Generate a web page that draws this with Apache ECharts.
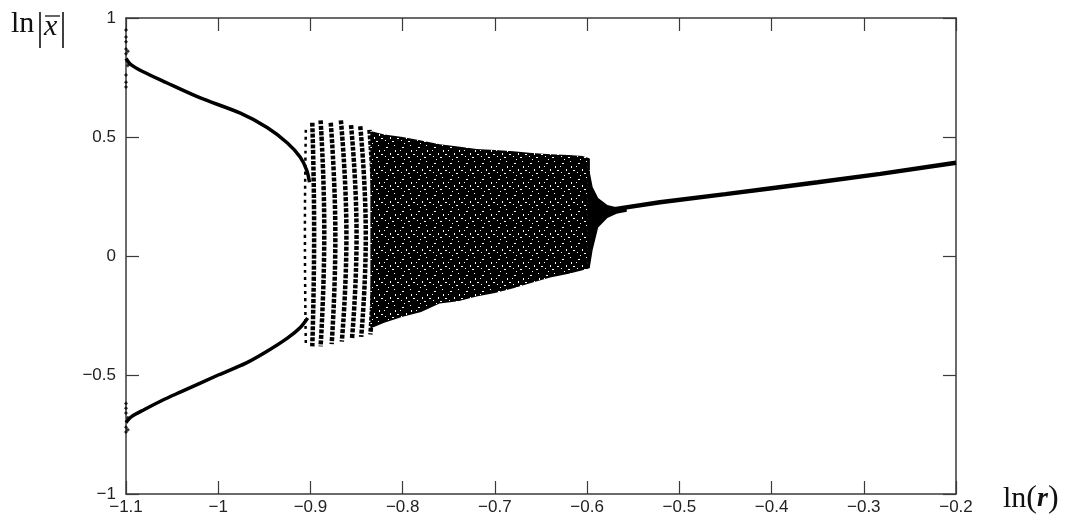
<!DOCTYPE html>
<html><head><meta charset="utf-8">
<script src="https://cdn.jsdelivr.net/npm/echarts@6/dist/echarts.min.js"></script>
<style>html,body{margin:0;padding:0;background:#fff}#c{width:1066px;height:520px}</style>
</head><body><div id="c"></div>
<script>
// ---- data ----
const xTicks = [-1.1, -1, -0.9, -0.8, -0.7, -0.6, -0.5, -0.4, -0.3, -0.2];
const yTicks = [-1, -0.5, 0, 0.5, 1];

const upperBranch = [[-1.1,0.83],[-1.095,0.805],[-1.082,0.775],[-1.056,0.728],[-1.02,0.665],[-0.976,0.60],[-0.947,0.54],[-0.925,0.475],[-0.911,0.415],[-0.904,0.36],[-0.901,0.31]];
const lowerBranch = [[-1.1,-0.70],[-1.094,-0.675],[-1.08,-0.645],[-1.06,-0.605],[-1.04,-0.57],[-1.0,-0.50],[-0.97,-0.45],[-0.947,-0.40],[-0.925,-0.345],[-0.911,-0.30],[-0.903,-0.26]];
const edgePoints = [[-1.1,0.95],[-1.1,0.92],[-1.1,0.90],[-1.1,0.87],[-1.1,0.85],[-1.098,0.86],[-1.098,0.80],[-1.1,0.76],[-1.1,0.73],[-1.1,0.71],
                    [-1.1,-0.62],[-1.1,-0.64],[-1.1,-0.66],[-1.098,-0.68],[-1.1,-0.72],[-1.1,-0.74],[-1.098,-0.73]];

const stripeTopX = [-0.905,-0.898,-0.889,-0.878,-0.867,-0.856,-0.846,-0.836];
const stripeTopY = [0.53,0.56,0.57,0.56,0.57,0.55,0.545,0.53];
const stripeMidX = [-0.906,-0.896,-0.885,-0.873,-0.861,-0.850,-0.840,-0.831];
const stripeMidY = [0.10,0.10,0.10,0.10,0.10,0.10,0.10,0.10];
const stripeBotX = [-0.905,-0.898,-0.889,-0.877,-0.866,-0.855,-0.845,-0.835];
const stripeBotY = [-0.37,-0.38,-0.38,-0.37,-0.36,-0.35,-0.34,-0.33];

const cloudX   = [-0.835,-0.82,-0.80,-0.78,-0.76,-0.74,-0.72,-0.70,-0.68,-0.66,-0.64,-0.62,-0.605,-0.597];
const cloudTop = [0.525,0.51,0.50,0.485,0.47,0.46,0.45,0.445,0.44,0.433,0.428,0.424,0.42,0.41];
const cloudBot = [-0.305,-0.28,-0.255,-0.235,-0.20,-0.19,-0.17,-0.155,-0.135,-0.112,-0.09,-0.075,-0.06,-0.05];

const funnelX   = [-0.600,-0.597,-0.594,-0.588,-0.578,-0.568,-0.557];
const funnelTop = [0.416,0.35,0.29,0.244,0.214,0.205,0.204];
const funnelBot = [-0.055,-0.046,0.025,0.12,0.16,0.178,0.186];

const rightX = [-0.572,-0.521,-0.45,-0.4,-0.35,-0.282,-0.2];
const rightY = [0.196,0.226,0.26,0.285,0.31,0.345,0.392];

// ---- stipple pattern (style only) ----
function makePattern(){
  const c = document.createElement('canvas'); c.width = 16; c.height = 16;
  const g = c.getContext('2d');
  g.fillStyle = '#000'; g.fillRect(0,0,16,16);
  g.fillStyle = '#fff';
  [[2,3,2,1],[10,1,1,1],[6,9,1,2],[13,10,2,1],[1,12,1,1],[11,6,1,2],[4,15,1,1],[8,13,2,1],[0,6,1,1]].forEach(r=>g.fillRect(r[0],r[1],r[2],r[3]));
  return c;
}
const pattern = makePattern();

const fmt = v => { const a = Math.abs(+v.toFixed(2)); return (v < -1e-9 ? '\u2212' : '') + a; };
const axisCol = '#3a3a3a';
const labelFont = {color:'#222', fontFamily:'Liberation Sans', fontSize:17};

const chart = echarts.init(document.getElementById('c'), null, {renderer:'canvas'});
const polyItem = (xs, tops, bots, fill) => function(params, api){
  if (params.dataIndex !== 0) return null;
  const pts = [];
  for (let i=0;i<xs.length;i++) pts.push(api.coord([xs[i], tops[i]]));
  for (let i=xs.length-1;i>=0;i--) pts.push(api.coord([xs[i], bots[i]]));
  return {type:'polygon', shape:{points:pts}, style:{fill:fill, stroke:null}};
};
const axLine = {onZero:false, lineStyle:{color:axisCol, width:1.5}};
const axTick = {inside:true, length:13, lineStyle:{color:axisCol, width:1.2}};

chart.setOption({
  animation:false,
  backgroundColor:'#fff',
  grid:{left:126, top:18, width:830, height:476},
  xAxis:[
    {type:'value', min:-1.1, max:-0.2, interval:0.1, position:'bottom',
     axisLine:axLine, axisTick:axTick,
     axisLabel:Object.assign({formatter:fmt, margin:5}, labelFont), splitLine:{show:false}},
    {type:'value', min:-1.1, max:-0.2, interval:0.1, position:'top',
     axisLine:axLine, axisTick:axTick,
     axisLabel:{show:false}, splitLine:{show:false}}
  ],
  yAxis:[
    {type:'value', min:-1, max:1, interval:0.5, position:'left',
     axisLine:axLine, axisTick:axTick,
     axisLabel:Object.assign({formatter:fmt, margin:10}, labelFont), splitLine:{show:false}},
    {type:'value', min:-1, max:1, interval:0.5, position:'right',
     axisLine:axLine, axisTick:axTick,
     axisLabel:{show:false}, splitLine:{show:false}}
  ],
  graphic:[
    {type:'text', left:11, top:9, style:{text:'ln', font:'30px "Liberation Serif"', fill:'#111'}},
    {type:'line', shape:{x1:40, y1:12, x2:40, y2:48}, style:{stroke:'#111', lineWidth:1.6}},
    {type:'line', shape:{x1:63, y1:12, x2:63, y2:48}, style:{stroke:'#111', lineWidth:1.6}},
    {type:'line', shape:{x1:45, y1:16, x2:60, y2:16}, style:{stroke:'#111', lineWidth:1.3}},
    {type:'text', left:44, top:12, style:{text:'x', font:'italic 30px "Liberation Serif"', fill:'#111'}},
    {type:'text', left:1003, top:483, style:{
      text:'{a|ln}{b|(}{c|r}{b|)}',
      rich:{a:{font:'30px "Liberation Serif"', fill:'#111'}, b:{font:'32px "Liberation Serif"', fill:'#111'}, c:{font:'italic bold 28px "Liberation Serif"', fill:'#111'}}
    }}
  ],
  series:[
    {type:'line', data:upperBranch, showSymbol:false, smooth:0.3, lineStyle:{color:'#000', width:3.5}, silent:true},
    {type:'line', data:lowerBranch, showSymbol:false, smooth:0.3, lineStyle:{color:'#000', width:3.5}, silent:true},
    {type:'scatter', data:edgePoints, symbol:'diamond', symbolSize:4, itemStyle:{color:'#000'}, silent:true},
    {type:'custom', silent:true, clip:true,
     data: stripeTopX.map((x,i)=>[x, stripeTopY[i], stripeMidX[i], stripeMidY[i], stripeBotX[i], stripeBotY[i]]),
     encode:{x:[0,2,4], y:[1,3,5]},
     renderItem:function(params, api){
       const i = params.dataIndex;
       const pts = [api.coord([api.value(0), api.value(1)]), api.coord([api.value(2), api.value(3)]), api.coord([api.value(4), api.value(5)])];
       return {type:'polyline', shape:{points:pts, smooth:0.5},
         style:{stroke:'#000', fill:null, lineWidth: i===0 ? 2.5 : 4.5, lineDash: i===0 ? [3,4] : [4,1.5]}};
     }},
    {type:'custom', silent:true, clip:true,
     data: cloudX.map((x,i)=>[x, cloudTop[i], cloudBot[i]]), encode:{x:0, y:[1,2]},
     renderItem: polyItem(cloudX, cloudTop, cloudBot, {image:pattern, repeat:'repeat'})},
    {type:'custom', silent:true, clip:true,
     data: funnelX.map((x,i)=>[x, funnelTop[i], funnelBot[i]]), encode:{x:0, y:[1,2]},
     renderItem: polyItem(funnelX, funnelTop, funnelBot, '#000')},
    {type:'line', data:rightX.map((x,i)=>[x, rightY[i]]), showSymbol:false, lineStyle:{color:'#000', width:4.5}, silent:true}
  ]
});
</script></body></html>
